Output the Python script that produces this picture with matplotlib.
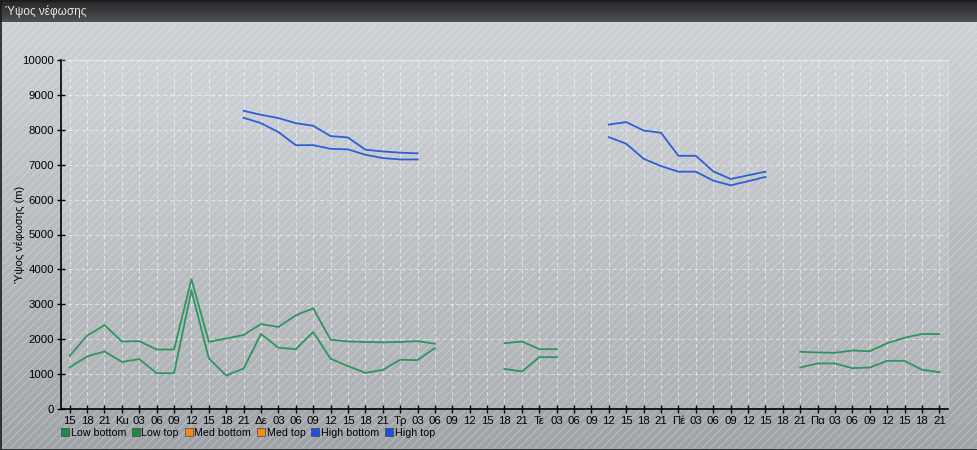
#!/usr/bin/env python3
import numpy as np
import matplotlib
matplotlib.use("Agg")
import matplotlib.pyplot as plt
from matplotlib.patches import Rectangle
from matplotlib.lines import Line2D

plt.rcParams["font.family"] = ["Liberation Sans", "DejaVu Sans"]
plt.rcParams["hatch.linewidth"] = 0.6

# x axis: one tick every 3 hours, day names at midnight
x_labels = ["15", "18", "21",
            "Ku", "03", "06", "09", "12", "15", "18", "21",
            "Δε", "03", "06", "09", "12", "15", "18", "21",
            "Τρ", "03", "06", "09", "12", "15", "18", "21",
            "Τε", "03", "06", "09", "12", "15", "18", "21",
            "Πέ", "03", "06", "09", "12", "15", "18", "21",
            "Πα", "03", "06", "09", "12", "15", "18", "21"]

N = None
low_bottom = [1190, 1505, 1650, 1350, 1430, 1025, 1025, 3400, 1450, 960,
              1160, 2150, 1755, 1715, 2205, 1440, 1230, 1035, 1120, 1410,
              1400, 1745, N, N, N, 1150, 1075, 1485, 1485, N,
              N, N, N, N, N, N, N, N, N, N,
              N, N, 1190, 1305, 1305, 1170, 1190, 1380, 1380, 1125,
              1055]
low_top = [1525, 2100, 2405, 1935, 1945, 1705, 1705, 3720, 1925, 2020,
           2120, 2435, 2350, 2685, 2885, 1985, 1935, 1920, 1910, 1920,
           1945, 1870, N, N, N, 1885, 1935, 1715, 1715, N,
           N, N, N, N, N, N, N, N, N, N,
           N, N, 1640, 1620, 1610, 1675, 1655, 1885, 2040, 2150,
           2145]
high_bottom = [N, N, N, N, N, N, N, N, N, N,
               8345, 8190, 7935, 7560, 7560, 7455, 7440, 7285, 7190, 7150,
               7150, N, N, N, N, N, N, N, N, N,
               N, 7790, 7600, 7170, 6960, 6800, 6800, 6545, 6410, 6525,
               6650, N, N, N, N, N, N, N, N, N,
               N]
high_top = [N, N, N, N, N, N, N, N, N, N,
            8545, 8430, 8335, 8190, 8115, 7820, 7780, 7430, 7380, 7345,
            7325, N, N, N, N, N, N, N, N, N,
            N, 8150, 8220, 7980, 7915, 7255, 7255, 6810, 6590, 6695,
            6800, N, N, N, N, N, N, N, N, N,
            N]

series_names = ["Low bottom", "Low top", "Med bottom", "Med top", "High bottom", "High top"]
legend_colors = ["#1f8a4c", "#1f8a4c", "#f28a1c", "#f28a1c", "#1f4fdc", "#1f4fdc"]
green_line = "#2f9560"
blue_line = "#2f5fd6"


def arr(v):
    return np.array([np.nan if a is None else a for a in v], dtype=float)


W, H = 978, 450
fig = plt.figure(figsize=(W / 100, H / 100), dpi=100)

# background: gray gradient with fine diagonal stripes
bg = fig.add_axes([0, 0, 1, 1])
bg.set_xlim(0, W)
bg.set_ylim(0, H)
bg.axis("off")
grad = np.linspace(0, 1, 256).reshape(-1, 1)
top_c = np.array([206, 210, 215]) / 255
bot_c = np.array([160, 164, 168]) / 255
img = top_c + (bot_c - top_c) * grad[:, :, None] * np.ones((1, 2, 1))
bg.imshow(img, extent=(0, W, 0, H - 22), aspect="auto", zorder=0)
bg.add_patch(Rectangle((0, 0), W, H - 22, fill=False, hatch="////",
                       edgecolor=(0.93, 0.95, 1.0, 0.38), linewidth=0, zorder=1))

# title bar
tgrad = np.linspace(0, 1, 64).reshape(-1, 1)
t_top = np.array([38, 38, 40]) / 255
t_bot = np.array([80, 81, 84]) / 255
timg = t_top + (t_bot - t_top) * tgrad[:, :, None] * np.ones((1, 2, 1))
bg.imshow(timg, extent=(0, W, H - 22, H), aspect="auto", zorder=2)
bg.text(5, H - 11, "Ύψος νέφωσης", color="#e8e8e8", fontsize=8.5,
        va="center", ha="left", zorder=3)
bg.add_patch(Rectangle((0.5, 0.5), W - 1, H - 1, fill=False,
                       edgecolor="#1a1a1a", linewidth=1.2, zorder=4))

# main plot
ax = fig.add_axes([61 / W, 41 / H, (948 - 61) / W, (409 - 60) / H])
ax.set_facecolor((1, 1, 1, 0.1))
for s in ["top", "right"]:
    ax.spines[s].set_color((1, 1, 1, 0.35))
    ax.spines[s].set_linewidth(0.6)
for s in ["left", "bottom"]:
    ax.spines[s].set_color("black")
    ax.spines[s].set_linewidth(1.2)

x = np.arange(len(x_labels))
ax.plot(x, arr(low_bottom), color=green_line, lw=1.3)
ax.plot(x, arr(low_top), color=green_line, lw=1.3)
ax.plot(x, arr(high_bottom), color=blue_line, lw=1.3)
ax.plot(x, arr(high_top), color=blue_line, lw=1.3)

ax.set_xlim(-0.5, len(x_labels) - 0.5)
ax.set_ylim(0, 10000)
ax.set_yticks(np.arange(0, 10001, 1000))
ax.set_xticks(x)
ax.set_xticklabels(x_labels)
ax.tick_params(axis="both", direction="inout", length=6, width=1, labelsize=8.2,
               color="black", labelcolor="black", pad=2)
ax.grid(True, color="white", alpha=0.55, linestyle=(0, (4, 3)), linewidth=0.7)
ax.set_axisbelow(True)
ax.set_ylabel("Ύψος νέφωσης (m)", fontsize=8)
ax.yaxis.set_label_coords(-36 / 887, 0.5)

handles = [Line2D([], [], marker="s", linestyle="none", markersize=6,
                  markerfacecolor=c, markeredgecolor="#333333", markeredgewidth=0.4)
           for c in legend_colors]
fig.legend(handles, series_names, loc="lower left", bbox_to_anchor=(55 / W, 8 / H),
           ncol=6, frameon=False, fontsize=7.7, handletextpad=0.05,
           columnspacing=0.4, handlelength=1.0, borderaxespad=0)

fig.savefig("out.png", dpi=100)
